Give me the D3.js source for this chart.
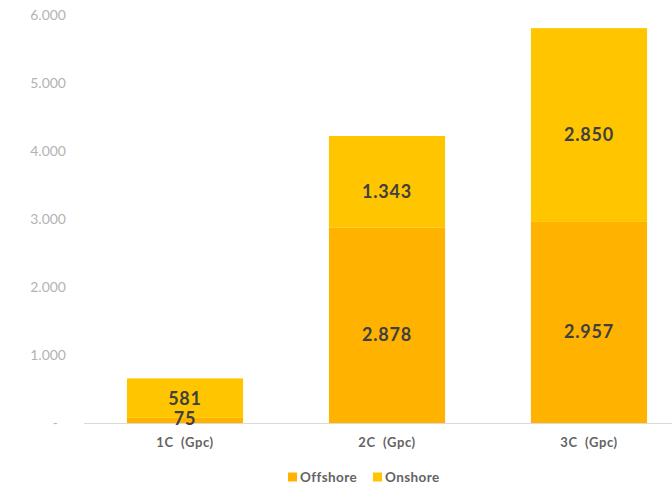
<!DOCTYPE html>
<html>
<head>
<meta charset="utf-8">
<script src="https://cdn.jsdelivr.net/npm/d3@7"></script>
<style>
  html, body { margin: 0; padding: 0; background: #fff; }
  svg { display: block; font-family: Lato, "Open Sans", sans-serif; }
</style>
</head>
<body>
<svg id="chart" width="672" height="486"></svg>
<script>
// Installed capacity by grid scenario (GW), stacked offshore + onshore
const categories = ["1C  (Gpc)", "2C  (Gpc)", "3C  (Gpc)"];
const offshore = [75, 2878, 2957];
const onshore = [581, 1343, 2850];
const seriesNames = ["Offshore", "Onshore"];
const seriesColors = ["#FFB300", "#FFC600"];
const yTicks = [0, 1000, 2000, 3000, 4000, 5000, 6000];

const svg = d3.select("#chart");
const W = 672, H = 486;
const plot = { left: 84, right: 690, top: 15, bottom: 423 };

const locale = d3.formatLocale({ decimal: ",", thousands: ".", grouping: [3], currency: ["", ""] });
const fmt = locale.format(",.0f");

const x = d3.scaleBand()
  .domain(categories)
  .range([plot.left, plot.right])
  .paddingInner(0.425)
  .paddingOuter(0.2125);

const y = d3.scaleLinear()
  .domain([0, 6000])
  .range([plot.bottom, plot.bottom - 6 * 68]);

const rows = categories.map((c, i) => ({ cat: c, Offshore: offshore[i], Onshore: onshore[i] }));
const stacked = d3.stack().keys(seriesNames)(rows);

// Y axis labels only (no line, no ticks)
const yAxis = svg.append("g")
  .attr("transform", `translate(66,0)`)
  .call(d3.axisLeft(y).tickValues(yTicks).tickSize(0).tickPadding(0)
    .tickFormat(d => d === 0 ? "-" : fmt(d)));
yAxis.select(".domain").remove();
yAxis.selectAll("text")
  .attr("fill", "#b3b3b3")
  .style("font-size", "14px")
  .style("font-family", "Lato, sans-serif")
  .attr("dy", "0.35em")
  .attr("dx", d => d === 0 ? -8 : 0);

// Stacked bars
const layers = svg.append("g").selectAll("g")
  .data(stacked)
  .join("g")
  .attr("fill", (d, i) => seriesColors[i]);

layers.selectAll("rect")
  .data(d => d)
  .join("rect")
  .attr("x", d => x(d.data.cat))
  .attr("width", x.bandwidth())
  .attr("y", d => y(d[1]))
  .attr("height", d => y(d[0]) - y(d[1]));

// Baseline
svg.append("line")
  .attr("x1", plot.left).attr("x2", W)
  .attr("y1", plot.bottom + 0.5).attr("y2", plot.bottom + 0.5)
  .attr("stroke", "#d9d9d9").attr("stroke-width", 1);

// Value labels inside segments
stacked.forEach(layer => {
  svg.append("g").selectAll("text")
    .data(layer)
    .join("text")
    .attr("x", d => x(d.data.cat) + x.bandwidth() / 2)
    .attr("y", d => {
      const top = y(d[1]), bot = y(d[0]);
      const mid = (top + bot) / 2;
      const h = bot - top;
      return h > 60 ? mid + 9 : (h < 10 ? bot - 5 : mid);
    })
    .attr("text-anchor", "middle")
    .attr("dominant-baseline", "central")
    .attr("fill", "#404040")
    .style("font-size", "18px")
    .style("font-weight", "bold")
    .style("letter-spacing", "0.8px")
    .text(d => fmt(d[1] - d[0]));
});

// Category labels
const xAxis = svg.append("g")
  .attr("transform", `translate(0,${plot.bottom})`)
  .call(d3.axisBottom(x).tickSize(0).tickPadding(0));
xAxis.select(".domain").remove();
xAxis.selectAll("text")
  .attr("y", 19)
  .attr("dy", "0.35em")
  .attr("fill", "#636363")
  .style("font-size", "13px")
  .style("font-weight", "bold")
  .style("letter-spacing", "0.6px")
  .style("font-family", "Lato, sans-serif")
  .style("white-space", "pre")
  .attr("xml:space", "preserve");

// Legend
const legendItems = [
  { name: seriesNames[0], color: seriesColors[0], x: 288 },
  { name: seriesNames[1], color: seriesColors[1], x: 373 }
];
const legend = svg.append("g").selectAll("g")
  .data(legendItems)
  .join("g")
  .attr("transform", d => `translate(${d.x},477)`);
legend.append("rect")
  .attr("x", 0).attr("y", -4.5)
  .attr("width", 9).attr("height", 9)
  .attr("fill", d => d.color);
legend.append("text")
  .attr("x", 12)
  .attr("dominant-baseline", "central")
  .attr("fill", "#636363")
  .style("font-size", "13.5px")
  .style("font-weight", "bold")
  .style("letter-spacing", "0.4px")
  .text(d => d.name);
</script>
</body>
</html>
